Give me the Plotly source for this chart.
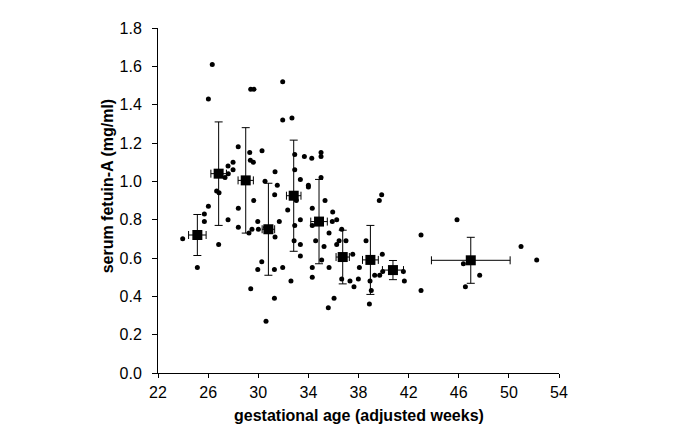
import plotly.graph_objects as go

# individual measurements (gestational age, fetuin-A)
pts_x = [26.33, 26.02, 29.40, 29.66, 31.95, 31.95, 32.69,
         28.40, 29.32, 30.30, 29.37, 29.61, 27.99, 27.59, 27.99, 27.61, 27.35, 26.68, 26.87,
         31.34, 30.54, 31.52, 31.31, 29.64, 32.91, 33.68, 34.27, 35.01, 35.01, 32.91, 33.36,
         35.01, 34.0, 34.0, 35.33,
         23.97, 25.14, 25.70, 25.70, 26.02, 26.84, 27.59, 28.41, 28.41, 29.26, 29.50, 29.96,
         30.01, 30.59, 30.28, 29.96, 29.40, 30.62, 31.29, 31.29, 31.34, 31.68, 31.95, 32.35,
         32.61, 32.91, 32.86, 33.04, 33.36, 33.36, 33.36, 34.31, 34.31, 34.31, 34.31, 34.58,
         35.06, 35.25, 35.65, 35.65, 35.59, 36.05, 35.94, 35.91, 36.26, 36.26, 36.45, 36.66,
         36.66, 37.0, 37.32, 37.54, 37.64, 37.99, 38.07, 38.60, 38.87,
         39.85, 39.66, 39.9, 39.29, 39.69, 39.93, 38.92, 39.02, 41.58, 41.66, 42.99, 42.99,
         45.86, 46.37, 46.53, 47.67, 50.97, 52.22]
pts_y = [1.61, 1.43, 1.48, 1.48, 1.52, 1.32, 1.33,
         1.18, 1.15, 1.16, 1.11, 1.10, 1.10, 1.08, 1.06, 1.04, 1.02, 0.95, 0.94,
         1.05, 1.00, 0.98, 0.93, 0.90, 1.14, 1.13, 1.12, 1.15, 1.13, 1.06, 1.01,
         1.02, 0.98, 0.97, 0.90,
         0.70, 0.55, 0.83, 0.79, 0.87, 0.67, 0.80, 0.86, 0.76, 0.73, 0.75, 0.79,
         0.75, 0.76, 0.58, 0.54, 0.44, 0.27, 0.39, 0.54, 0.71, 0.79, 0.55, 0.85,
         0.48, 0.77, 0.69, 0.90, 0.80, 0.67, 0.61, 0.86, 0.77, 0.55, 0.50, 0.69,
         0.59, 0.66, 0.73, 0.55, 0.34, 0.39, 0.84, 0.79, 0.80, 0.67, 0.69, 0.75,
         0.49, 0.69, 0.48, 0.62, 0.45, 0.49, 0.55, 0.69, 0.36,
         0.93, 0.90, 0.62, 0.51, 0.51, 0.53, 0.48, 0.43, 0.53, 0.48, 0.72, 0.43,
         0.80, 0.57, 0.45, 0.51, 0.66, 0.59]

# group means with error bars
mean_x = [25.14, 26.84, 29.0, 30.81, 32.83, 34.85, 36.74, 38.95, 40.75, 46.96]
mean_y = [0.72, 1.04, 1.005, 0.75, 0.925, 0.79, 0.605, 0.59, 0.537, 0.588]
err_y = [0.107, 0.27, 0.275, 0.24, 0.29, 0.22, 0.14, 0.18, 0.05, 0.12]
err_x = [0.7, 0.62, 0.61, 0.5, 0.58, 0.66, 0.53, 0.63, 0.84, 3.14]

x_ticks = [22, 26, 30, 34, 38, 42, 46, 50, 54]
y_ticks = [0.0, 0.2, 0.4, 0.6, 0.8, 1.0, 1.2, 1.4, 1.6, 1.8]

FONT = "Liberation Sans, Arial, sans-serif"

# the page body adds an 8px margin, so the figure is sized to fit the window
W, H = 667, 423
ML, MR, MT, MB = 150, 116, 14, 58
PW = W - ML - MR
PH = H - MT - MB

fig = go.Figure()
fig.add_trace(go.Scatter(
    x=pts_x, y=pts_y, mode="markers",
    marker=dict(color="black", size=5),
    showlegend=False, cliponaxis=False))
fig.add_trace(go.Scatter(
    x=mean_x, y=mean_y, mode="markers",
    marker=dict(color="black", size=10, symbol="square"),
    error_y=dict(type="data", array=err_y, color="black", thickness=1, width=4),
    error_x=dict(type="data", array=err_x, color="black", thickness=1, width=4),
    showlegend=False, cliponaxis=False))

fig.update_layout(
    width=W, height=H,
    margin=dict(l=ML, r=MR, t=MT, b=MB),
    plot_bgcolor="white", paper_bgcolor="white",
    font=dict(family=FONT, size=16, color="black"),
    xaxis=dict(range=[22, 54], tickvals=x_ticks, ticktext=[str(v) for v in x_ticks],
               showgrid=False, zeroline=False, showline=True, linecolor="black",
               linewidth=1, ticks="outside", ticklen=4, tickcolor="black",
               ticklabelstandoff=1, tickfont=dict(size=16)),
    yaxis=dict(range=[0, 1.8], tickvals=y_ticks, ticktext=[f"{v:.1f}" for v in y_ticks],
               showgrid=False, zeroline=False, showline=True, linecolor="black",
               linewidth=1, ticks="outside", ticklen=5, tickcolor="black",
               ticklabelstandoff=7, tickfont=dict(size=16)),
    annotations=[
        dict(text="<b>gestational age (adjusted weeks)</b>", x=0.5, xref="paper",
             y=-43 / PH, yref="paper", yanchor="middle", xanchor="center",
             showarrow=False, font=dict(size=16)),
        dict(text="<b>serum fetuin-A (mg/ml)</b>", x=-51 / PW, xref="paper",
             y=0.541, yref="paper", textangle=-90, showarrow=False,
             xanchor="center", yanchor="middle", font=dict(size=16)),
    ],
)

fig.write_html("out.html")
